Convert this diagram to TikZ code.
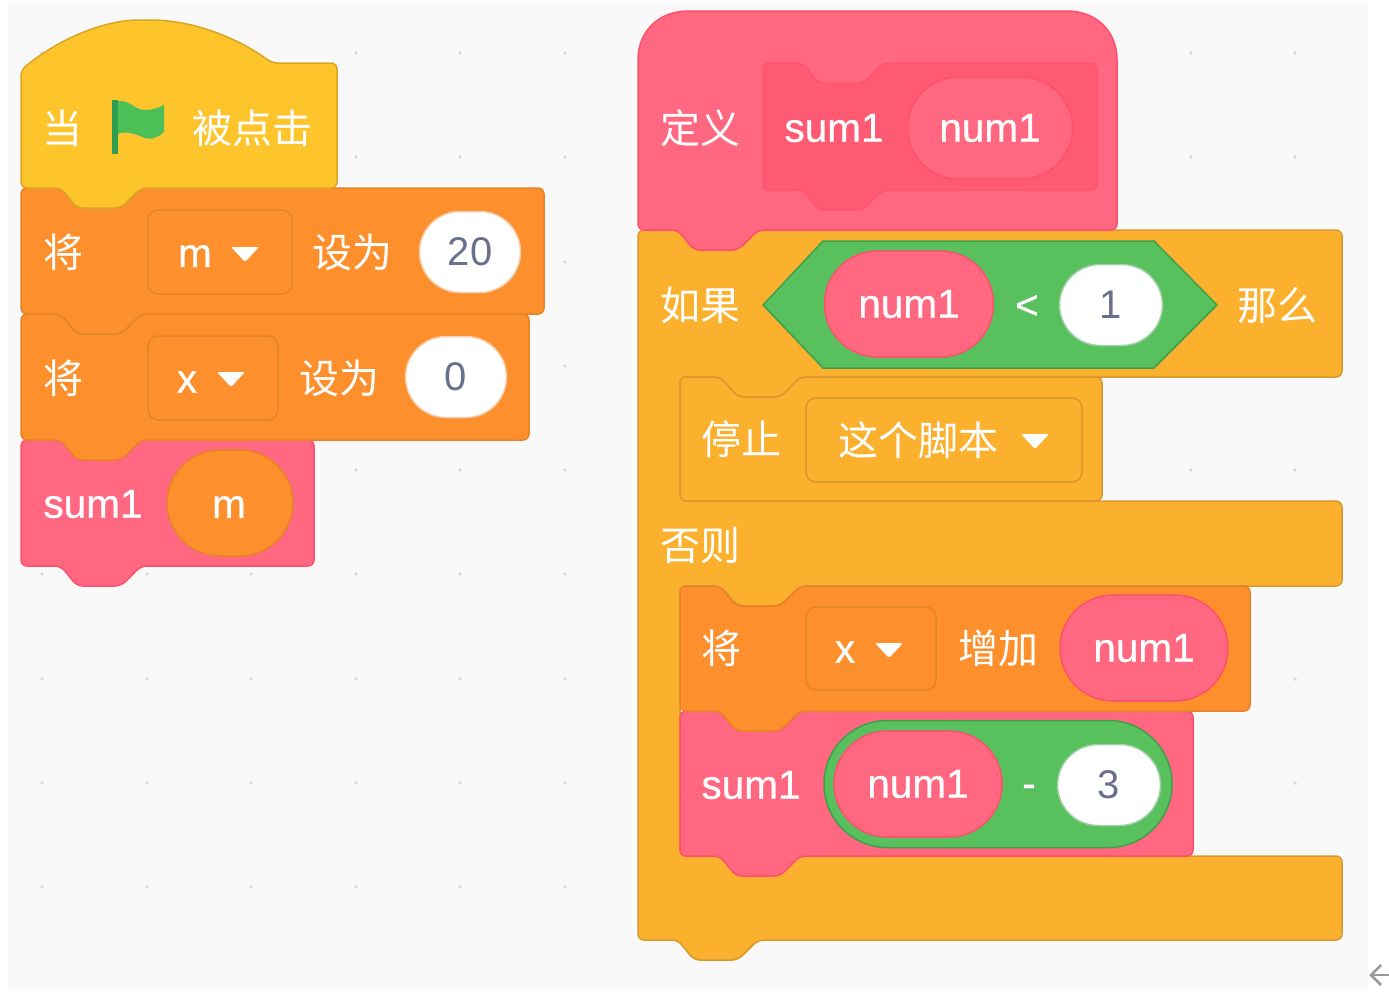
\documentclass[tikz,border=0pt]{standalone}
\usepackage{fontspec}
\setmainfont{Liberation Sans}
\newfontfamily\latin[RawFeature={embolden=0.6}]{Liberation Sans}
\newfontfamily\cjk{Noto Sans CJK SC}
\usetikzlibrary{shapes.misc}
\definecolor{bgc}{HTML}{F9F9F9}
\definecolor{dotc}{HTML}{D8D8D8}
\definecolor{hatf}{HTML}{FDC42B}
\definecolor{hatd}{HTML}{D9A524}
\definecolor{orf}{HTML}{FD8F2C}
\definecolor{ord}{HTML}{E5832A}
\definecolor{ctf}{HTML}{FBB02E}
\definecolor{ctd}{HTML}{D9982C}
\definecolor{pkf}{HTML}{FF6880}
\definecolor{pkd}{HTML}{FF4F6C}
\definecolor{pki}{HTML}{FF5A73}
\definecolor{grf}{HTML}{58C05C}
\definecolor{grd}{HTML}{3F9F4A}
\definecolor{numc}{HTML}{6A708C}
\definecolor{flagf}{HTML}{4CBF56}
\definecolor{flagp}{HTML}{2E9E50}
\tikzset{
  x=1pt,y=-1pt,
  orblk/.style={fill=orf,draw=ord,line width=1.5pt},
  ctblk/.style={fill=ctf,draw=ctd,line width=1.5pt},
  pkblk/.style={fill=pkf,draw=pkd,line width=1.5pt},
  pkin/.style={fill=pki,draw=pkd,line width=1pt},
  hatblk/.style={fill=hatf,draw=hatd,line width=1.5pt},
  lat/.style={text=white,inner sep=0pt,font=\latin\fontsize{40.5}{40}\selectfont},
  han/.style={text=white,inner sep=0pt,font=\cjk\fontsize{40}{42}\selectfont},
  pill/.style={rounded rectangle,inner sep=0pt,line width=1.5pt,minimum width=#1},
  pinkpill/.style={pill=#1,minimum height=106pt,fill=pkf,draw=pkd,text=white,font=\latin\fontsize{40.5}{40}\selectfont},
  whitepill/.style={pill=#1,minimum height=81pt,fill=white,draw=ord!40!white,text=numc,font=\fontsize{40}{40}\selectfont},
  ddbox/.style={rounded corners=10pt,line width=1.5pt},
  ddarrow/.style={fill=white,rounded corners=2pt},
}
% style, x, y, width, height : stack block with notch and bump
\newcommand{\stackblk}[5]{%
  \draw[#1,rounded corners=6pt] (#2,#3) -- (#2+40,#3) -- (#2+56,#3+20) -- (#2+100,#3+20) -- (#2+120,#3)
    -- (#2+#4,#3) -- (#2+#4,#3+#5) -- (#2+120,#3+#5) -- (#2+100,#3+#5+20) -- (#2+56,#3+#5+20) -- (#2+40,#3+#5)
    -- (#2,#3+#5) -- cycle;}
\newcommand{\ddown}[6]{% name, style colour, x1,y1,x2,y2
  \draw[ddbox,draw=#2] (#3,#4) rectangle (#5,#6);}
\newcommand{\ddtri}[2]{\fill[ddarrow] (#1-14,#2-7) -- (#1+14,#2-7) -- (#1,#2+8) -- cycle;}
\begin{document}
\begin{tikzpicture}
\useasboundingbox (0,0) rectangle (1389,997);
\fill[white] (0,0) rectangle (1389,997);
\fill[bgc] (8,4) rectangle (1368,988);
% grid dots
\foreach \gy in {53,157,262,366,470,574,679,783,887}
  \foreach \gx in {42,147,251,356,460,565,1191,1295}
    \fill[dotc] (\gx,\gy) circle[radius=1.8pt];

% ---------- left stack (lower blocks first)
\stackblk{pkblk}{21}{440}{293}{126}
\stackblk{orblk}{21}{314}{508}{126}
\stackblk{orblk}{21}{188}{523}{126}
\draw[hatblk,rounded corners=6pt] (21,188) -- (21,70)
   .. controls (60,38) and (105,20) .. (145,20)
   .. controls (190,20) and (235,36) .. (272,63)
   -- (337,63) -- (337,188) -- (141,188) -- (121,208) -- (77,208) -- (61,188) -- cycle;
\node[han] (dang) at (62,128) {当};
\fill[flagp] (112,100) rectangle (118,154);
\fill[flagf] (118,101) .. controls (130,100) and (135,110) .. (145,110)
  .. controls (153,110) and (158,108) .. (164,105) -- (164,132)
  .. controls (155,140) and (148,140) .. (140,136) .. controls (132,133) and (125,131) .. (118,134) -- cycle;
\node[han] (clicked) at (252,128) {被点击};

\node[han] (setm) at (63,252) {将};
\ddown{mbox}{ord}{148}{210}{292}{294}
\node[lat] (mv) at (195,256) {m};
\ddtri{245}{254}
\node[han] (setmto) at (352,252) {设为};
\node[whitepill=101pt] (v20) at (470,252) {20};

\node[han] (setx) at (63,378) {将};
\ddown{xbox}{ord}{148}{336}{278}{420}
\node[lat] (xv) at (187,382) {x};
\ddtri{231}{379}
\node[han] (setxto) at (339,378) {设为};
\node[whitepill=101pt] (v0) at (456,377) {0};

\node[lat] (callsum) at (93,504) {sum1};
\node[pill=126pt,minimum height=106pt,fill=orf,draw=ord] (argm) at (230,503) {};
\node[lat] (argmt) at (229,507) {m};

% ---------- right script: C-block
\draw[ctblk,rounded corners=6pt] (638,230) -- (678,230) -- (694,250) -- (738,250) -- (758,230)
  -- (1342,230) -- (1342,377) -- (800,377) -- (781,397) -- (738,397) -- (720,377) -- (680,377)
  -- (680,501) -- (1342,501) -- (1342,586) -- (800,586) -- (781,606) -- (738,606) -- (720,586) -- (680,586)
  -- (680,856) -- (1342,856) -- (1342,940) -- (758,940) -- (738,960) -- (694,960) -- (678,940)
  -- (638,940) -- cycle;

% stop block
\draw[ctblk,rounded corners=6pt] (680,377) -- (720,377) -- (738,397) -- (781,397) -- (800,377)
  -- (1102,377) -- (1102,501) -- (680,501) -- cycle;
% stack inside else
\stackblk{pkblk}{680}{711}{513}{145}
\stackblk{orblk}{680}{586}{570}{125}

% define hat
\draw[pkblk] (638,230) -- (638,60) .. controls (638,30) and (660,11) .. (688,11)
  -- (1067,11) .. controls (1095,11) and (1117,30) .. (1117,60) -- (1117,224)
  [rounded corners=6pt] -- (1117,230) -- (758,230) -- (738,250) -- (694,250) -- (678,230) -- cycle;
\stackblk{pkin}{763}{63}{334}{127}
\node[han] (define) at (700,128) {定义};
\node[lat] (defname) at (834,128) {sum1};
\node[pinkpill=165pt,minimum height=102pt] (defarg) at (990,128) {num1};

% if row
\node[han] (ifw) at (700,305) {如果};
\draw[fill=grf,draw=grd,line width=1.5pt,line join=round] (763,305) -- (823,241) -- (1154,241) -- (1217,305) -- (1154,368) -- (823,368) -- cycle;
\node[pinkpill=169pt] (ifarg) at (909,304) {num1};
\node[lat] (lt) at (1027,307) {<};
\node[whitepill=103pt,draw=grd!50!white] (v1) at (1111,305) {1};
\node[han] (then) at (1277,305) {那么};

% stop row
\node[han] (stopw) at (741,439) {停止};
\ddown{stopbox}{ctd}{806}{398}{1082}{482}
\node[han] (thisscript) at (918,440) {这个脚本};
\ddtri{1035}{441}

\node[han] (elsew) at (700,545) {否则};

% change row
\node[han] (chg) at (721,648) {将};
\ddown{chgbox}{ord}{806}{607}{936}{690}
\node[lat] (chgx) at (845,652) {x};
\ddtri{889}{650}
\node[han] (inc) at (998,648) {增加};
\node[pinkpill=168pt] (chgarg) at (1144,648) {num1};

% recursive call
\node[lat] (recsum) at (751,785) {sum1};
\node[pill=348pt,minimum height=127pt,fill=grf,draw=grd] (minus) at (998,784) {};
\node[pinkpill=168pt] (recarg) at (918,784) {num1};
\node[lat] (minusw) at (1029,791) {-};
\node[whitepill=103pt,draw=grd!50!white] (v3) at (1109,785) {3};

% cut-off arrow at the corner
\coordinate (atip) at (1371,975);
\draw[gray!80,line width=2.5pt] (1389,975) -- (atip);
\draw[gray!80,line width=2.5pt] (1381,965) -- (atip) -- (1381,985);
\end{tikzpicture}
\end{document}
